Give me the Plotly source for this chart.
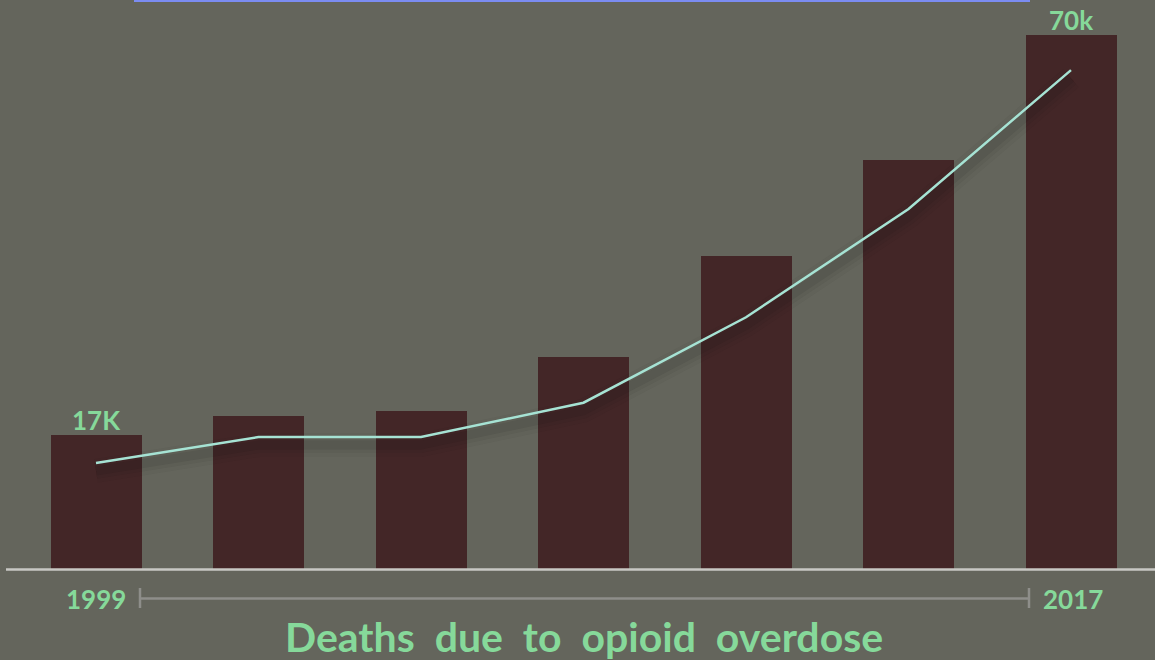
import plotly.graph_objects as go

years = ["1999", "2002", "2005", "2008", "2011", "2014", "2017"]
bar_values = [17600, 20100, 20700, 27800, 41000, 53600, 70000]
line_values = [13900, 17300, 17300, 21800, 33000, 47200, 65400]
first_label = "17K"
last_label = "70k"
start_year = "1999"
end_year = "2017"
title_text = "Deaths due to opioid overdose"

W, H = 1155, 660
BG = "#64655c"
BAR = "#432627"
LINE = "#a6e3d4"
GREEN = "#86d99a"
FONT = "Lato"

x = list(range(len(years)))
k = 131.1  # value per pixel
base_px = 569
y0 = -(H - base_px) * k
y1 = base_px * k
step = 162.5
c0 = 96
xr = [-c0 / step, (W - c0) / step]

fig = go.Figure()
fig.add_trace(go.Bar(x=x, y=bar_values, marker=dict(color=BAR, line=dict(width=0)),
                     width=0.56, hoverinfo="skip"))
# soft shadow under the line
shadow_off = 8 * k
for wdt, op in [(24, 0.04), (16, 0.05), (9, 0.07)]:
    fig.add_trace(go.Scatter(x=x, y=[v - shadow_off for v in line_values], mode="lines",
                             line=dict(color="rgba(20,20,20,%s)" % op, width=wdt),
                             hoverinfo="skip"))
fig.add_trace(go.Scatter(x=x, y=line_values, mode="lines",
                         line=dict(color=LINE, width=2.5), hoverinfo="skip"))

lab_font = dict(family=FONT, size=26, color=GREEN, weight=700)
fig.add_annotation(x=x[0], y=bar_values[0], text=first_label, showarrow=False,
                   yanchor="bottom", yshift=-3, font=lab_font)
fig.add_annotation(x=x[-1], y=bar_values[-1], text=last_label, showarrow=False,
                   yanchor="bottom", yshift=-3, font=lab_font)

def py(px):
    return (H - px) / H

def pxx(px):
    return px / W

shapes = [
    dict(type="line", xref="paper", yref="paper", x0=pxx(6), x1=1, y0=py(569.5), y1=py(569.5),
         line=dict(color="#c8c8c4", width=2.5)),
    dict(type="line", xref="paper", yref="paper", x0=pxx(140), x1=pxx(1029), y0=py(598.5), y1=py(598.5),
         line=dict(color="#8e8e8a", width=2.5)),
    dict(type="line", xref="paper", yref="paper", x0=pxx(140), x1=pxx(140), y0=py(588), y1=py(608),
         line=dict(color="#8e8e8a", width=2.5)),
    dict(type="line", xref="paper", yref="paper", x0=pxx(1029), x1=pxx(1029), y0=py(588), y1=py(608),
         line=dict(color="#8e8e8a", width=2.5)),
    dict(type="line", xref="paper", yref="paper", x0=pxx(134), x1=pxx(1030), y0=py(1), y1=py(1),
         line=dict(color="#7b8cf2", width=2)),
]
fig.update_layout(shapes=shapes)

fig.add_annotation(xref="paper", yref="paper", x=pxx(128), y=py(599), text=start_year,
                   showarrow=False, xanchor="right", yanchor="middle", font=lab_font)
fig.add_annotation(xref="paper", yref="paper", x=pxx(1041), y=py(599), text=end_year,
                   showarrow=False, xanchor="left", yanchor="middle", font=lab_font)
fig.add_annotation(xref="paper", yref="paper", x=pxx(584), y=py(636), text=title_text.replace(" ", "\u00a0\u00a0"),
                   showarrow=False, xanchor="center", yanchor="middle",
                   font=dict(family=FONT, size=41, color=GREEN, weight=700))

fig.update_layout(
    width=W, height=H, margin=dict(l=0, r=0, t=0, b=0),
    paper_bgcolor=BG, plot_bgcolor=BG, showlegend=False,
    xaxis=dict(range=xr, visible=False, fixedrange=True),
    yaxis=dict(range=[y0, y1], visible=False, fixedrange=True),
    bargap=0,
)
fig.write_html("out.html")
